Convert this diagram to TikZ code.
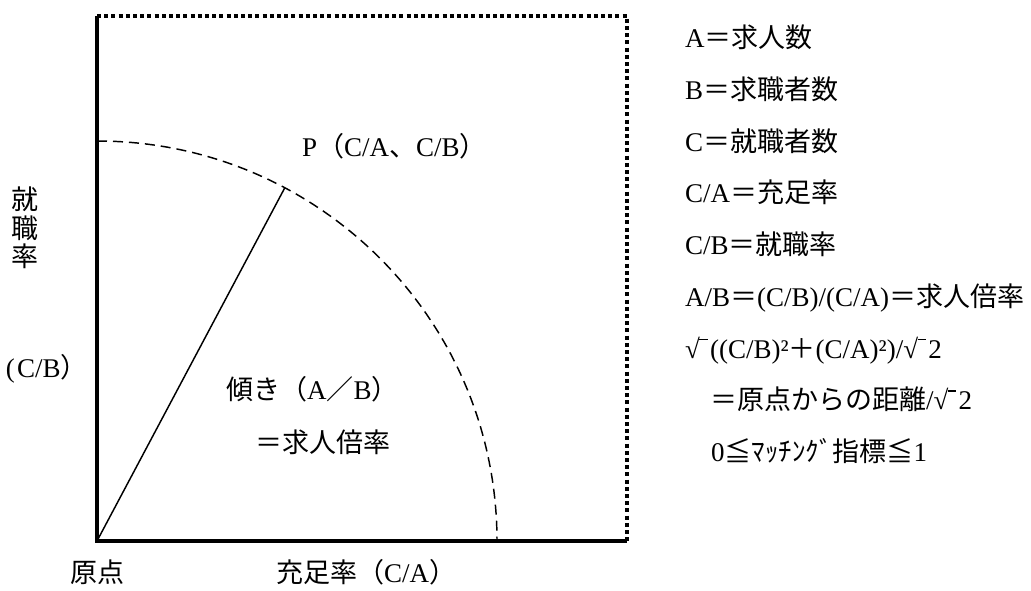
\documentclass[tikz,border=0pt]{standalone}
\usepackage{fontspec}
\usetikzlibrary{calc}
\setmainfont{Liberation Serif}
\newfontfamily\jpfont{Noto Sans CJK JP}
\newcommand\J[1]{{\jpfont #1}}
\newcommand\rtbar{√\kern-0.02em\rule[0.665em]{0.32em}{0.05em}\kern0.08em}
\begin{document}
\begin{tikzpicture}[x=0.75pt,y=-0.75pt,
  lbl/.style={inner sep=0pt,outer sep=0pt,text height=0.86em,text depth=0.14em,font=\fontsize{20.25}{24}\selectfont},
  lft/.style={lbl,anchor=west},
  axis/.style={line width=2.3pt},
  dotbox/.style={line width=2.3pt,dash pattern=on 3pt off 2.4pt},
  arcline/.style={line width=1.1pt,dash pattern=on 7.5pt off 4.5pt},
  slope/.style={line width=1.1pt}]
\useasboundingbox (0,0) rectangle (1031,590);
\coordinate (O) at (97,541);
\coordinate (TL) at (97,16);
\coordinate (TR) at (627,16);
\coordinate (BR) at (627,541);
\coordinate (Ytop) at (97,141);
\coordinate (P) at ($(O)+(62:300pt)$);
% axes
\draw[axis] (TL) -- (O) -- (BR);
\draw[dotbox] (TL) -- (TR) -- (BR);
% arc
\draw[arcline] (Ytop) arc[start angle=90,end angle=0,radius=300pt];
\draw[slope] (O) -- (P);
% labels in the plot
\node[lft] (pl) at (302,152) {P\J{（}C/A\J{、}C/B\J{）}};
\node[lft] (sl) at (226,395) {\J{傾き（}A\J{／}B\J{）}};
\node[lft] (sl2) at (255,448) {\J{＝求人倍率}};
% axis labels
\node[lbl] (y1) at (25,205) {\J{就}};
\node[lbl] (y2) at (25,233.5) {\J{職}};
\node[lbl] (y3) at (25,262) {\J{率}};
\node[lft] (y4) at (6,373) {(\kern0.08em C/B\J{）}};
\node[lbl] (orig) at (97.5,578) {\J{原点}};
\node[lft] (xl) at (276,578) {\J{充足率（}C/A\J{）}};
% legend
\node[lft] (r1) at (685,43) {A\J{＝求人数}};
\node[lft] (r2) at (685,94.7) {B\J{＝求職者数}};
\node[lft] (r3) at (685,146.4) {C\J{＝就職者数}};
\node[lft] (r4) at (685,198.1) {C/A\J{＝充足率}};
\node[lft] (r5) at (685,249.8) {C/B\J{＝就職率}};
\node[lft] (r6) at (685,301.5) {A/B\J{＝}(C/B)/(C/A)\J{＝求人倍率}};
\node[lft] (r7) at (685,353.2) {\rtbar((C/B)²\J{＋}(C/A)²)/\rtbar2};
\node[lft] (r8) at (710,404.9) {\J{＝原点からの距離}/\rtbar2};
\node[lft] (r9) at (711,456.6) {0\J{≦ﾏｯﾁﾝｸﾞ指標≦}1};
\end{tikzpicture}
\end{document}
